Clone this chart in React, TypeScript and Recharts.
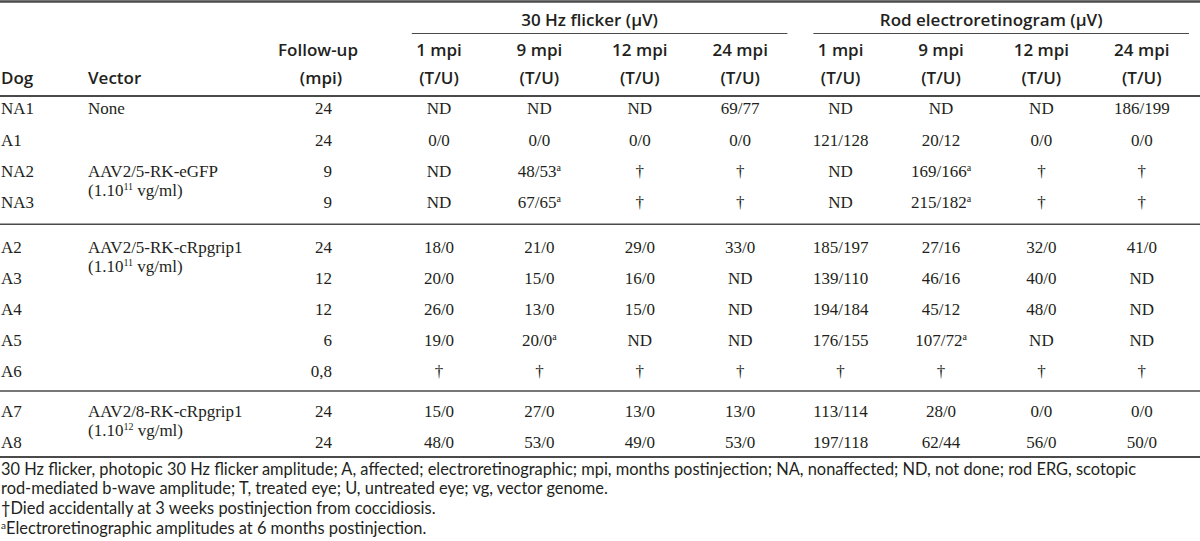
import React from 'react';
import { ScatterChart, Scatter, XAxis, YAxis, ReferenceLine } from 'recharts';

// rows
const dogs = ['NA1', 'A1', 'NA2', 'NA3', 'A2', 'A3', 'A4', 'A5', 'A6', 'A7', 'A8'];
const groupOf = [0, 0, 0, 0, 1, 1, 1, 1, 1, 2, 2];
const followUp = ['24', '24', '9', '9', '24', '12', '12', '6', '0,8', '24', '24'];
const vectorName = ['None', '', 'AAV2/5-RK-eGFP', '', 'AAV2/5-RK-cRpgrip1', '', '', '', '', 'AAV2/8-RK-cRpgrip1', ''];
const vectorDose = ['', '', '11', '', '11', '', '', '', '', '12', ''];

// columns (T/U), "^a" = footnote a
const groupTitles = ['30 Hz flicker (\u00b5V)', 'Rod electroretinogram (\u00b5V)'];
const timepoints = ['1 mpi', '9 mpi', '12 mpi', '24 mpi'];
const flicker1 = ['ND', '0/0', 'ND', 'ND', '18/0', '20/0', '26/0', '19/0', '\u2020', '15/0', '48/0'];
const flicker9 = ['ND', '0/0', '48/53^a', '67/65^a', '21/0', '15/0', '13/0', '20/0^a', '\u2020', '27/0', '53/0'];
const flicker12 = ['ND', '0/0', '\u2020', '\u2020', '29/0', '16/0', '15/0', 'ND', '\u2020', '13/0', '49/0'];
const flicker24 = ['69/77', '0/0', '\u2020', '\u2020', '33/0', 'ND', 'ND', 'ND', '\u2020', '13/0', '53/0'];
const rod1 = ['ND', '121/128', 'ND', 'ND', '185/197', '139/110', '194/184', '176/155', '\u2020', '113/114', '197/118'];
const rod9 = ['ND', '20/12', '169/166^a', '215/182^a', '27/16', '46/16', '45/12', '107/72^a', '\u2020', '28/0', '62/44'];
const rod12 = ['ND', '0/0', '\u2020', '\u2020', '32/0', '40/0', '48/0', 'ND', '\u2020', '0/0', '56/0'];
const rod24 = ['186/199', '0/0', '\u2020', '\u2020', '41/0', 'ND', 'ND', 'ND', '\u2020', '0/0', '50/0'];
const columns = [flicker1, flicker9, flicker12, flicker24, rod1, rod9, rod12, rod24];

const footnotes = [
  '30 Hz flicker, photopic 30 Hz flicker amplitude; A, affected; electroretinographic; mpi, months postinjection; NA, nonaffected; ND, not done; rod ERG, scotopic',
  'rod-mediated b-wave amplitude; T, treated eye; U, untreated eye; vg, vector genome.',
  '\u2020Died accidentally at 3 weeks postinjection from coccidiosis.',
  '^aElectroretinographic amplitudes at 6 months postinjection.',
];

const W = 1200;
const H = 541;
const LABEL_W = 388.8;
const HEAD_H = 96;
const MARGIN = { top: 0, right: 8, bottom: 84, left: 0 };
const COL_W = (W - LABEL_W - MARGIN.right) / columns.length;
const Y_DOMAIN: [number, number] = [-0.4, 11.2];
const groupGap = [0, 0.45, 0.71];

const SERIF = "'Liberation Serif', 'Times New Roman', serif";
const SANS = "'Open Sans', 'Noto Sans', sans-serif";
const NOTE_SANS = "Lato, 'Open Sans', sans-serif";
const INK = '#231f20';
const RULE = '#4a4a4a';

const rowSlot = dogs.map((_, i) => i + groupGap[groupOf[i]]);
const separators = rowSlot
  .slice(0, -1)
  .map((s, i) => (groupOf[i] !== groupOf[i + 1] ? (s + rowSlot[i + 1]) / 2 : null))
  .filter((s): s is number => s !== null);

const cells = columns.flatMap((col, c) =>
  col.map((text, r) => ({ col: c, slot: rowSlot[r], text })),
);

// "^x" marks a one-letter superscript
const withSup = (text: string, size: number, rise: number) => {
  const parts = text.split(/\^(.)/);
  let raised = false;
  return parts.map((part, i) => {
    if (!part) return null;
    const isSup = i % 2 === 1;
    const dy = isSup ? (raised ? 0 : -rise) : raised ? rise : 0;
    raised = isSup;
    return (
      <tspan key={i} fontSize={isSup ? size : undefined} dy={dy || undefined}>
        {part}
      </tspan>
    );
  });
};

const CellShape = (props: any) => {
  const { cx, cy, payload } = props;
  return (
    <text x={cx} y={cy + 6} textAnchor="middle" fontFamily={SERIF} fontSize={17} fill={INK}>
      {withSup(payload.text, 10, 6)}
    </text>
  );
};

const RowTick = (props: any) => {
  const { y, index } = props;
  const dose = vectorDose[index];
  return (
    <g fontFamily={SERIF} fontSize={17} fill={INK}>
      <text x={1} y={y + 6}>{dogs[index]}</text>
      {vectorName[index] && <text x={88} y={y + 6}>{vectorName[index]}</text>}
      {dose && (
        <text x={88} y={y + 25}>
          <tspan>(1.10</tspan>
          <tspan fontSize={10} dy={-6}>{dose}</tspan>
          <tspan dy={6}> vg/ml)</tspan>
        </text>
      )}
      <text x={332} y={y + 6} textAnchor="end">{followUp[index]}</text>
    </g>
  );
};

const ColTick = (props: any) => {
  const { x, payload } = props;
  return (
    <g fontFamily={SANS} fontSize={17} fontWeight={600} fill={INK} textAnchor="middle">
      <text x={x} y={56}>{timepoints[payload.value % timepoints.length]}</text>
      <text x={x} y={84}>(T/U)</text>
    </g>
  );
};

const FullRule = (width: number) => (p: any) => (
  <line x1={0} x2={W} y1={p.y1} y2={p.y2} stroke={RULE} strokeWidth={width} />
);

const TableFrame = () => (
  <g>
    <line x1={0} x2={W} y1={1.5} y2={1.5} stroke={RULE} strokeWidth={2.5} />
    <g fontFamily={SANS} fontSize={17} fontWeight={600} fill={INK}>
      <text x={1} y={84}>Dog</text>
      <text x={88} y={84}>Vector</text>
      <text x={318} y={56} textAnchor="middle">Follow-up</text>
      <text x={321} y={84} textAnchor="middle">(mpi)</text>
      {groupTitles.map((t, g) => {
        const x0 = LABEL_W + g * timepoints.length * COL_W;
        return (
          <g key={t}>
            <text x={x0 + 2 * COL_W} y={26} textAnchor="middle">{t}</text>
            <line x1={x0 + 23} x2={x0 + 4 * COL_W - 3} y1={33.5} y2={33.5} stroke={RULE} strokeWidth={1.2} />
          </g>
        );
      })}
    </g>
    <g fontFamily={NOTE_SANS} fontSize={16.4} fill={INK}>
      {footnotes.map((f, i) => (
        <text key={i} x={1} y={474.5 + i * 19.9}>{withSup(f, 10, 5)}</text>
      ))}
    </g>
  </g>
);

export default function App() {
  return (
    <div style={{ position: 'absolute', left: 0, top: 0, width: W, height: H, background: '#fff' }}>
      <ScatterChart width={W} height={H} margin={MARGIN}>
        <XAxis
          type="number"
          dataKey="col"
          orientation="top"
          height={HEAD_H}
          domain={[-0.5, columns.length - 0.5]}
          ticks={columns.map((_, i) => i)}
          interval={0}
          allowDataOverflow
          axisLine={false}
          tickLine={false}
          tick={ColTick}
        />
        <YAxis
          type="number"
          dataKey="slot"
          width={LABEL_W}
          reversed
          domain={Y_DOMAIN}
          ticks={rowSlot}
          interval={0}
          allowDataOverflow
          axisLine={false}
          tickLine={false}
          tick={RowTick}
        />
        <ReferenceLine y={Y_DOMAIN[0]} shape={FullRule(2)} />
        {separators.map((s) => (
          <ReferenceLine key={s} y={s} shape={FullRule(1.5)} />
        ))}
        <ReferenceLine y={Y_DOMAIN[1]} shape={FullRule(2)} />
        <Scatter data={cells} shape={CellShape} isAnimationActive={false} />
        <TableFrame />
      </ScatterChart>
    </div>
  );
}
